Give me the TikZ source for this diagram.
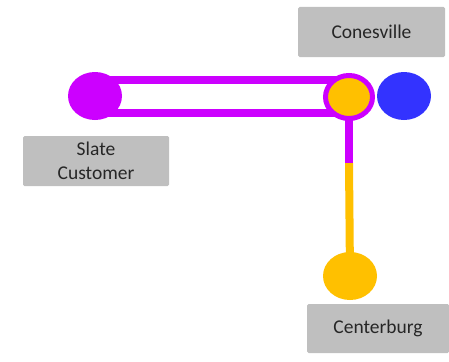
\documentclass[tikz,border=0pt]{standalone}
\usepackage{fontspec}
\setmainfont{Carlito}
\usetikzlibrary{shapes.geometric}
\definecolor{linepurple}{HTML}{CC00FF}
\definecolor{lineorange}{HTML}{FFC000}
\definecolor{lineblue}{HTML}{3333FF}
\definecolor{labelgray}{HTML}{BFBFBF}
\begin{document}
\begin{tikzpicture}[x=1pt,y=-1pt,
  labelbox/.style={fill=labelgray, rounded corners=1.5pt, inner sep=0pt,
    align=center, font=\fontsize{19.5}{24}\selectfont, text=black!85},
  station/.style={ellipse, inner sep=0pt, minimum width=54pt, minimum height=48pt},
  track/.style={line width=8pt}]
\useasboundingbox (0,0) rectangle (449,361);
% coordinates of the track corners
\coordinate (loopNW) at (95,80);
\coordinate (loopSE) at (349,113);
\coordinate (branch) at (349,163);
% loop and branch lines
\draw[track, linepurple] (loopNW) rectangle (loopSE);
\node[station, fill=lineorange] (center) at (350,276) {};
\draw[track, lineorange] (branch) -- (center.center);
\draw[track, linepurple, line cap=butt] (loopSE) -- (branch);
% stations
\node[station, fill=linepurple] (slate) at (95,96) {};
\node[ellipse, inner sep=0pt, minimum width=47pt, minimum height=43pt,
  fill=lineorange, draw=linepurple, line width=5pt] (cones) at (349,97) {};
\node[station, fill=lineblue] (blue) at (404,96) {};
% labels
\node[labelbox, minimum width=146pt, minimum height=50pt] (slatelbl) at (96,161) {Slate\\Customer};
\node[labelbox, minimum width=147pt, minimum height=50pt] (coneslbl) at (371.5,32) {Conesville};
\node[labelbox, minimum width=142pt, minimum height=49pt] (centerlbl) at (378,328.5) {Centerburg};
\end{tikzpicture}
\end{document}
